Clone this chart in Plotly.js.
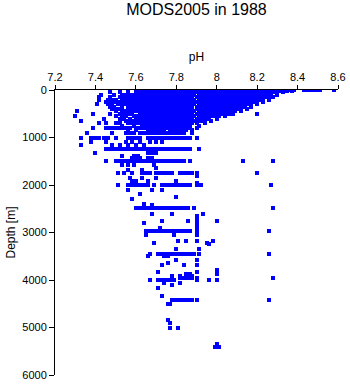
<!DOCTYPE html>
<html>
<head>
<meta charset="utf-8">
<script src="https://cdn.plot.ly/plotly-3.0.1.min.js"></script>
<style>html,body{margin:0;padding:0;background:#fff;}#chart{width:350px;height:384px;}
.scatterlayer path.point{shape-rendering:crispEdges;}</style>
</head>
<body>
<div id="chart"></div>
<script>
// Depth levels (m) and the pH values observed at each level
const rowDepth = [0, 25, 50, 100, 150, 200, 250, 300, 350, 400, 450, 500, 550, 600, 650, 700, 750, 800, 850, 900, 1000,
  1100, 1150, 1250, 1330, 1380, 1430, 1500, 1580, 1640, 1680, 1750, 1800, 1860, 1920, 1960, 2000,
  2100, 2190, 2260, 2300, 2400, 2420, 2490, 2620, 2650, 2700, 2750, 2760, 2790, 2800, 2850, 2900, 2950,
  2970, 3050, 3170, 3220, 3240, 3350, 3460, 3500, 3580, 3650, 3690, 3790, 3840, 3870, 3920, 3950,
  4000, 4070, 4100, 4170, 4340, 4430, 4500, 4840, 4900, 5000, 5350, 5420];

const rowPh = [
  [7.60,7.66,7.69,7.72,7.74,7.76,7.78,7.80,7.82,7.84,7.86,7.88,7.90,7.92,7.94,7.96,7.98,8.00,8.02,8.04,8.06,8.08,8.10,8.12,8.14,8.16,8.18,8.20,8.22,8.24,8.26,8.28,8.30,8.32,8.34,8.36,8.38,8.43,8.45,8.47,8.49,8.51,8.58],
  [7.70,7.73,7.75,7.77,7.79,7.81,7.83,7.85,7.87,7.89,7.91,7.93,7.95,7.97,7.99,8.01,8.03,8.05,8.07,8.09,8.11,8.13,8.15,8.17,8.19,8.21,8.23,8.25,8.27,8.29,8.31,8.33,8.35,8.37],
  [7.47,7.52,7.56,7.60,7.62,7.64,7.66,7.68,7.70,7.72,7.74,7.76,7.78,7.80,7.82,7.84,7.86,7.88,7.90,7.92,7.94,7.96,7.98,8.00,8.02,8.04,8.06,8.08,8.10,8.12,8.14,8.16,8.18,8.20,8.22,8.24,8.26,8.28,8.30,8.33],
  [7.43,7.49,7.53,7.55,7.57,7.59,7.61,7.63,7.65,7.67,7.69,7.71,7.73,7.75,7.77,7.79,7.81,7.83,7.85,7.87,7.89,7.91,7.93,7.95,7.97,7.99,8.01,8.03,8.05,8.07,8.09,8.11,8.13,8.15,8.17,8.19,8.21,8.23,8.25,8.27,8.30],
  [7.42,7.47,7.52,7.54,7.56,7.58,7.60,7.62,7.64,7.66,7.68,7.70,7.72,7.74,7.76,7.78,7.80,7.82,7.84,7.86,7.88,7.90,7.92,7.94,7.96,7.98,8.00,8.02,8.04,8.06,8.08,8.10,8.12,8.14,8.16,8.18,8.20,8.22,8.24,8.26,8.28],
  [7.42,7.46,7.48,7.50,7.53,7.55,7.57,7.59,7.61,7.63,7.65,7.67,7.69,7.71,7.73,7.75,7.77,7.79,7.81,7.83,7.85,7.87,7.89,7.91,7.93,7.95,7.97,7.99,8.01,8.03,8.05,8.07,8.09,8.11,8.13,8.15,8.17,8.19,8.21,8.23,8.26],
  [7.45,7.47,7.49,7.52,7.54,7.56,7.58,7.60,7.62,7.64,7.66,7.68,7.70,7.72,7.74,7.76,7.78,7.80,7.82,7.84,7.86,7.88,7.90,7.92,7.94,7.96,7.98,8.00,8.02,8.04,8.06,8.08,8.10,8.12,8.14,8.16,8.18,8.20,8.23],
  [7.41,7.46,7.48,7.51,7.53,7.55,7.57,7.59,7.61,7.63,7.65,7.67,7.69,7.71,7.73,7.75,7.77,7.79,7.81,7.83,7.85,7.87,7.89,7.91,7.93,7.95,7.97,7.99,8.01,8.03,8.05,8.07,8.09,8.11,8.13,8.15,8.17,8.20],
  [7.47,7.49,7.53,7.56,7.58,7.60,7.62,7.64,7.66,7.68,7.70,7.72,7.74,7.76,7.78,7.80,7.82,7.84,7.86,7.88,7.90,7.92,7.94,7.96,7.98,8.00,8.02,8.04,8.06,8.08,8.10,8.12,8.14,8.17],
  [7.48,7.50,7.52,7.56,7.58,7.61,7.63,7.65,7.67,7.69,7.71,7.73,7.75,7.77,7.79,7.82,7.86,7.90,7.92,7.94,7.96,7.98,8.00,8.02,8.04,8.06,8.08,8.10,8.12,8.15],
  [7.31,7.50,7.53,7.55,7.57,7.59,7.61,7.63,7.65,7.67,7.69,7.71,7.73,7.75,7.77,7.79,7.81,7.83,7.85,7.87,7.89,7.91,7.93,7.95,7.97,7.99,8.01,8.03,8.05,8.07,8.09,8.12],
  [7.39,7.47,7.52,7.54,7.56,7.58,7.62,7.64,7.66,7.68,7.70,7.72,7.74,7.76,7.78,7.80,7.82,7.84,7.86,7.88,7.90,7.92,7.94,7.96,7.98,8.00,8.02,8.04,8.06,8.08,8.20],
  [7.30,7.50,7.53,7.55,7.59,7.61,7.63,7.65,7.67,7.69,7.71,7.73,7.75,7.77,7.79,7.81,7.83,7.85,7.87,7.89,7.91,7.93,7.95,7.97,7.99,8.01,8.04],
  [7.44,7.52,7.54,7.57,7.60,7.62,7.64,7.66,7.68,7.70,7.72,7.74,7.76,7.78,7.80,7.82,7.84,7.86,7.88,7.90,7.92,7.94,7.96,8.00],
  [7.33,7.55,7.58,7.61,7.63,7.65,7.67,7.69,7.71,7.73,7.75,7.77,7.79,7.81,7.83,7.85,7.87,7.89,7.91,7.93,7.97],
  [7.42,7.45,7.50,7.52,7.56,7.58,7.60,7.62,7.64,7.66,7.68,7.70,7.72,7.74,7.76,7.78,7.80,7.82,7.84,7.86,7.88,7.90,7.94],
  [7.53,7.59,7.63,7.65,7.67,7.69,7.71,7.73,7.75,7.77,7.79,7.81,7.83,7.85,7.87,7.91],
  [7.39,7.45,7.47,7.49,7.51,7.53,7.55,7.57,7.60,7.62,7.64,7.66,7.68,7.70,7.72,7.74,7.76,7.78,7.80,7.82,7.84,7.86,7.90],
  [7.56,7.60,7.66,7.68,7.70,7.72,7.74,7.77,7.79,7.81,7.83,7.85,7.88],
  [7.36,7.48,7.55,7.57,7.59,7.62,7.64,7.66,7.68,7.70,7.72,7.74,7.76,7.78,7.80,7.82,7.84,7.88],
  [7.33,7.38,7.40,7.42,7.44,7.46,7.50,7.56,7.58,7.60,7.62,7.66,7.68,7.70,7.72,7.74,7.76,7.78,7.80,7.82,7.84,7.86,7.87,7.90],
  [7.38,7.45,7.55,7.58,7.62,7.67,7.70,7.73],
  [7.33,7.48,7.52,7.56,7.60,7.64],
  [7.45,7.47,7.49,7.51,7.53,7.55,7.57,7.59,7.61,7.63,7.65,7.67,7.69,7.71,7.73,7.75,7.77,7.79,7.81,7.83,7.85,7.87,7.91],
  [7.40,7.66,7.68,7.70],
  [7.53,7.59,7.61],
  [7.58,7.60,7.62,7.66,7.68],
  [7.45,7.50,7.52,7.54,7.56,7.58,7.60,7.62,7.64,7.66,7.68,7.70,7.72,7.74,7.76,7.78,7.80,7.82,7.84,7.87,8.13,8.28],
  [7.53,7.56,7.59,7.69],
  [7.70],
  [7.56,7.63],
  [7.51,7.54,7.58,7.63,7.65,7.67,7.70,7.72,7.74,7.76,7.78,7.82,7.84,7.86,7.88,7.90,8.20],
  [7.90],
  [7.57,7.63,7.70],
  [7.58,7.60,7.66,7.80],
  [7.90],
  [7.51,7.56,7.58,7.60,7.62,7.64,7.66,7.69,7.73,7.75,7.77,7.79,7.81,7.83,7.85,7.87,7.90,7.92,8.27],
  [7.56,7.68,7.73],
  [7.62],
  [7.80],
  [7.58],
  [7.64],
  [7.68],
  [7.60,7.62,7.64,7.66,7.68,7.70,7.72,7.74,7.76,7.78,7.80,7.82,7.84,7.86,7.89,8.28],
  [7.68,7.78,7.93],
  [7.90],
  [7.90],
  [7.90],
  [7.73,7.86,8.00],
  [7.64],
  [7.90],
  [7.90],
  [7.72,7.90],
  [7.90],
  [7.65,7.67,7.69,7.71,7.73,7.75,7.77,7.79,7.81,7.83,7.85,7.87,7.90,8.26],
  [7.65,7.79,7.90],
  [7.81,7.85,7.90,7.98],
  [7.69,7.95],
  [7.96],
  [7.80,7.91],
  [7.67,7.71,7.73,7.75,7.77,7.79,7.81,7.83,7.85,7.87,7.89,7.91,8.26],
  [7.66,7.74,7.76],
  [7.80,7.90],
  [7.76],
  [7.73,7.84,7.90],
  [8.00],
  [7.71,7.90],
  [7.85,7.87,8.00],
  [7.78,7.82,7.86,7.88],
  [7.82,7.84,7.86,7.88,7.90,8.28],
  [7.67,7.71,7.73,7.75,7.77,7.79,7.90,7.96,8.00],
  [7.74,7.82],
  [7.78],
  [7.71],
  [7.73],
  [7.78,7.80,7.82,7.84,7.86,7.88,7.90,8.26],
  [7.76,7.77],
  [7.76],
  [7.77],
  [7.77,7.81],
  [8.00],
  [7.99,8.01]
];

const xTickVals = [7.2, 7.4, 7.6, 7.8, 8, 8.2, 8.4, 8.6];
const yTickVals = [0, 1000, 2000, 3000, 4000, 5000, 6000];

const xs = [], ys = [];
rowDepth.forEach((d, i) => {
  rowPh[i].forEach(p => { xs.push(p); ys.push(d); });
});

const font = "'Liberation Sans', Arial, Helvetica, sans-serif";

Plotly.newPlot('chart', [{
  type: 'scatter',
  mode: 'markers',
  x: xs,
  y: ys,
  marker: {symbol: 'square', size: 4, color: '#0000ff', line: {width: 0}},
  hoverinfo: 'x+y'
}], {
  width: 350,
  height: 384,
  margin: {l: 55, r: 12, t: 90, b: 9},
  paper_bgcolor: '#ffffff',
  plot_bgcolor: '#ffffff',
  showlegend: false,
  font: {family: font, size: 11, color: '#000000'},
  title: {
    text: 'MODS2005 in 1988',
    font: {family: font, size: 16, color: '#000000'},
    x: 0.5, xref: 'paper', xanchor: 'center',
    y: 1 - 9 / 384, yref: 'container', yanchor: 'middle'
  },
  xaxis: {
    side: 'top',
    range: [7.2, 8.6],
    tickvals: xTickVals,
    ticktext: xTickVals.map(v => String(v)),
    ticks: 'outside', ticklen: 4, tickwidth: 1, tickcolor: '#000',
    showline: true, linecolor: '#000', linewidth: 1,
    showgrid: false, zeroline: false,
    tickfont: {family: font, size: 11, color: '#000'},
    title: {text: 'pH', font: {family: font, size: 12, color: '#000'}, standoff: 6}
  },
  yaxis: {
    range: [6000, 0],
    tickvals: yTickVals,
    ticks: 'outside', ticklen: 5, tickwidth: 1, tickcolor: '#000',
    showline: true, linecolor: '#000', linewidth: 1,
    showgrid: false, zeroline: false,
    tickfont: {family: font, size: 11, color: '#000'},
    title: {text: 'Depth [m]', font: {family: font, size: 12, color: '#000'}, standoff: 4}
  }
}, {displayModeBar: false, staticPlot: true});
</script>
</body>
</html>
